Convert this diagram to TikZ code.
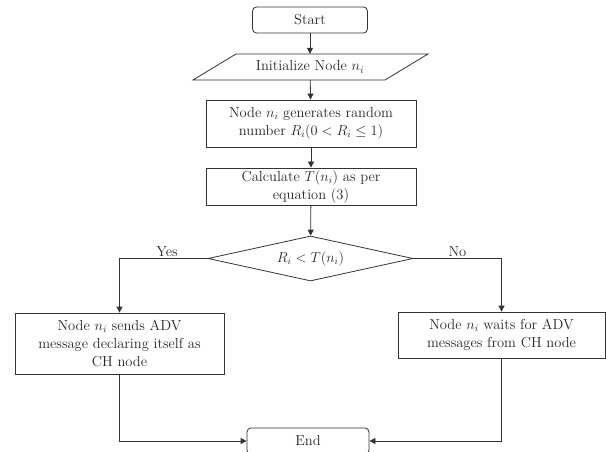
\documentclass[tikz,border=0pt]{standalone}
\usetikzlibrary{shapes.geometric,arrows.meta,calc}
\begin{document}
\begin{tikzpicture}[x=1pt,y=-1pt,
  font=\fontsize{14.5}{18}\selectfont,
  every node/.style={text=black!85},
  line/.style={draw=black!80,line width=0.8pt},
  arr/.style={line,-{Triangle[length=6pt,width=6pt]}},
  procbox/.style={line,rectangle,align=center,inner sep=1pt},
  termbox/.style={line,rectangle,rounded corners=4pt,minimum width=115pt,minimum height=26pt},
  decbox/.style={line,diamond,aspect=4.5,inner sep=0pt,minimum width=205pt,minimum height=45pt},
  lbl/.style={font=\fontsize{14.5}{16}\selectfont,above,inner sep=1pt}]
\useasboundingbox (0,0) rectangle (606,452);
\node[termbox] (start) at (310,20) {Start};
\node[minimum width=192pt,minimum height=26pt,inner sep=0pt] (init) at (310,67) {Initialize Node $n_i$};
\draw[line] ($(init.center)+(-117,13)$) -- ($(init.center)+(75,13)$) -- ($(init.center)+(118,-13)$) -- ($(init.center)+(-74,-13)$) -- cycle;
\node[procbox,minimum width=210pt,minimum height=47pt] (gen) at (311,123.5) {Node $n_i$ generates random\\number $R_i(0<R_i\le 1)$};
\node[procbox,minimum width=210pt,minimum height=37pt] (calc) at (311,186.5) {Calculate $T(n_i)$ as per\\equation (3)};
\node[decbox] (dec) at (310.5,258.5) {$R_i<T(n_i)$};
\node[procbox,minimum width=209pt,minimum height=61pt] (yesbox) at (119.5,343.5) {Node $n_i$ sends ADV\\message declaring itself as\\CH node};
\node[procbox,minimum width=207pt,minimum height=46pt] (nobox) at (501.5,335) {Node $n_i$ waits for ADV\\messages from CH node};
\node[termbox,minimum width=122pt] (end) at (308,441) {End};
\draw[arr] (start) -- (init);
\draw[arr] (init) -- (gen);
\draw[arr] (gen) -- (calc);
\draw[arr] (calc) -- (dec);
\draw[arr] (dec.west) -| node[lbl,pos=0.23] {Yes} (yesbox.north);
\draw[arr] (dec.east) -| node[lbl,pos=0.25] {No} (nobox.north);
\draw[arr] (yesbox.south) |- (end.west);
\draw[arr] (nobox.south) |- (end.east);
\end{tikzpicture}
\end{document}
